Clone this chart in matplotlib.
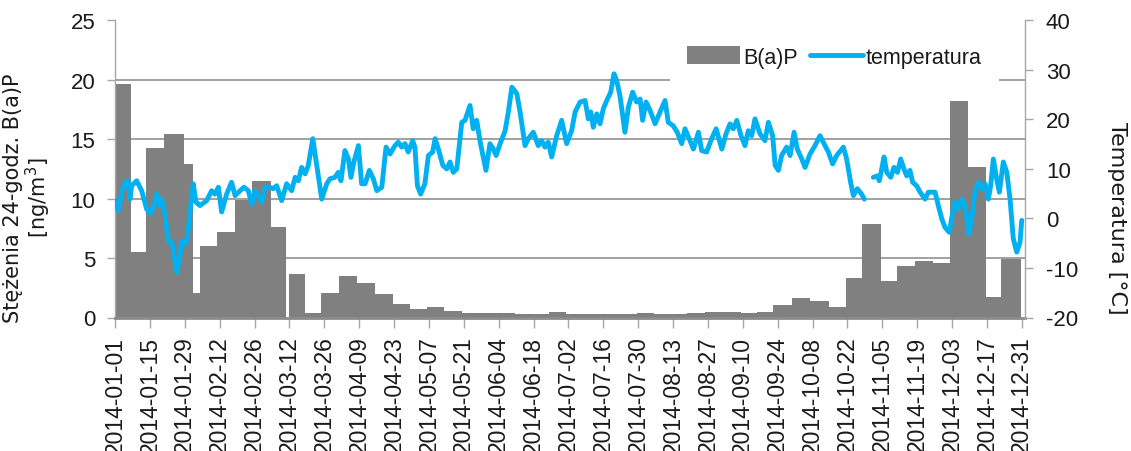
import numpy as np
import matplotlib
matplotlib.use("Agg")
import matplotlib.pyplot as plt
from matplotlib import font_manager

# ---------------- data ----------------
# B(a)P sampling periods: edges in days since 2014-01-01, values in ng/m3
bap_edges = [0, 6.4, 12.4, 19.7, 27.7, 31.3, 34.1, 40.9, 48.2, 55.0, 62.6, 68.6,
             70.0, 76.3, 82.6, 89.8, 97.3, 104.4, 111.5, 118.4, 125.1, 132.1,
             139.2, 160.6, 174.2, 181.0, 209.6, 216.4, 229.6, 236.9, 251.3,
             257.7, 264.1, 271.8, 279.0, 286.6, 293.5, 299.9, 307.5, 314.0,
             321.2, 328.4, 335.2, 342.4, 349.7, 355.7, 363.7]
bap_values = [19.6, 5.55, 14.3, 15.4, 12.95, 2.1, 6.05, 7.2, 9.85, 11.5, 7.65,
              np.nan, 3.7, 0.4, 2.05, 3.45, 2.9, 1.95, 1.1, 0.7, 0.85, 0.55,
              0.4, 0.3, 0.45, 0.3, 0.4, 0.3, 0.4, 0.5, 0.4, 0.5, 1.05, 1.65,
              1.35, 0.85, 3.3, 7.9, 3.1, 4.35, 4.75, 4.55, 18.2, 12.7, 1.75, 4.9]

# daily temperature readings (day since 2014-01-01, deg C)
temp_day = [0.0, 1.3, 2.7, 4.0, 5.3, 6.0, 6.7, 8.7, 10.7, 12.7,
            14.1, 15.7, 16.7, 18.1, 18.7, 20.1, 21.4, 22.8, 23.7, 24.8,
            25.8, 26.8, 28.1, 29.0, 30.1, 31.4, 32.5, 34.1, 36.8, 38.8,
            40.1, 41.5, 42.8, 44.8, 46.8, 48.2, 50.2, 51.8, 53.5, 54.9,
            56.2, 57.5, 58.9, 60.2, 62.2, 63.5, 64.9, 66.9, 68.9, 70.9,
            72.3, 73.6, 74.9, 76.3, 77.6, 79.4, 81.0, 83.0, 85.0, 86.3,
            88.3, 89.6, 90.7, 92.3, 93.7, 94.7, 95.9, 97.7, 99.0, 100.4,
            102.1, 103.7, 105.1, 107.1, 108.8, 110.4, 112.4, 113.7, 115.1, 116.4,
            117.7, 119.5, 120.4, 121.4, 122.7, 124.4, 125.8, 127.5, 128.5, 129.8,
            131.6, 133.2, 134.5, 135.8, 137.2, 139.2, 140.5, 142.5, 143.8, 145.2,
            146.5, 148.9, 150.5, 151.9, 153.0, 154.6, 156.6, 157.9, 159.3, 161.3,
            162.6, 164.6, 165.9, 167.9, 169.9, 171.3, 172.6, 173.9, 175.3, 177.3,
            179.3, 181.3, 183.3, 184.7, 186.7, 188.7, 190.0, 191.0, 192.0, 193.4,
            194.7, 196.0, 197.4, 199.0, 200.3, 201.4, 202.7, 204.7, 206.1, 207.8,
            209.4, 210.8, 211.8, 213.2, 214.8, 216.8, 218.8, 220.8, 222.1, 224.1,
            225.7, 227.5, 228.8, 230.5, 232.2, 234.2, 235.5, 237.5, 239.5, 241.3,
            243.6, 245.3, 246.9, 248.2, 249.6, 251.3, 252.9, 254.2, 255.6, 256.9,
            258.9, 260.9, 262.3, 264.0, 265.0, 266.3, 267.6, 269.6, 271.0, 272.6,
            273.9, 275.7, 277.0, 279.0, 281.0, 283.0, 285.0, 286.3, 288.1, 289.7,
            292.4, 293.7, 295.3, 296.4, 298.0, 299.7, 300.8, 302.5, 304.4, 306.0,
            306.8, 307.8, 308.7, 309.8, 311.4, 312.7, 314.1, 315.4, 316.7, 317.8,
            319.1, 320.2, 321.8, 323.2, 325.2, 326.5, 329.2, 330.5, 331.9, 333.2,
            334.9, 336.3, 337.2, 338.6, 339.9, 341.2, 342.8, 343.9, 345.2, 346.6,
            347.9, 349.3, 350.6, 351.5, 352.6, 353.9, 355.0, 356.6, 358.0, 359.3,
            360.6, 362.0, 363.3, 364.0]
temp_val = [3.6, 1.6, 5.3, 7.3, 7.6, 3.9, 6.6, 7.6, 5.6, 1.9,
            0.9, 2.6, 4.9, 2.6, 3.9, 0.6, -4.5, -4.8, -7.5, -10.9,
            -8.2, -4.5, -5.2, -4.1, 1.3, 7.0, 3.3, 2.6, 3.6, 5.6,
            4.9, 6.3, 1.3, 4.9, 7.3, 4.6, 5.6, 6.3, 5.6, 2.9,
            5.6, 4.6, 3.3, 6.3, 6.3, 6.0, 6.6, 3.6, 7.0, 5.6,
            8.3, 7.6, 10.3, 9.0, 10.7, 16.1, 10.7, 3.9, 7.0, 8.0,
            8.3, 9.3, 7.6, 13.7, 12.0, 8.3, 11.4, 14.7, 7.0, 7.0,
            9.7, 8.0, 5.6, 6.3, 14.4, 13.0, 14.7, 15.4, 14.4, 15.1,
            13.4, 15.7, 14.4, 6.6, 4.9, 7.0, 12.7, 13.4, 16.1, 14.0,
            10.7, 10.0, 11.4, 9.3, 10.0, 19.4, 19.8, 22.8, 18.1, 19.8,
            15.7, 9.7, 15.1, 14.0, 12.7, 15.1, 17.7, 21.5, 26.5, 25.2,
            21.5, 14.7, 16.1, 17.4, 14.7, 15.7, 14.4, 15.4, 12.4, 16.7,
            19.8, 15.1, 17.7, 21.5, 23.5, 23.8, 20.1, 21.5, 18.4, 21.1,
            19.1, 22.1, 23.8, 25.5, 29.2, 27.8, 24.8, 17.4, 22.5, 25.5,
            23.5, 24.1, 19.8, 23.5, 21.8, 19.1, 21.5, 23.8, 19.4, 18.7,
            17.4, 15.1, 18.1, 16.1, 14.0, 17.4, 13.7, 13.4, 16.1, 18.1,
            14.0, 17.1, 19.1, 18.1, 19.8, 16.7, 14.7, 17.7, 16.7, 20.1,
            17.1, 15.7, 19.4, 16.7, 10.7, 9.7, 12.7, 14.4, 12.7, 17.4,
            14.0, 12.0, 10.3, 13.0, 14.7, 16.7, 14.7, 13.5, 11.0, 12.7,
            14.4, 12.0, 7.3, 4.6, 6.0, 4.9, 3.9, np.nan, 8.3, 8.6,
            7.6, 10.0, 12.4, 9.3, 8.3, 10.3, 9.3, 12.0, 10.0, 8.6,
            9.7, 7.3, 6.6, 5.3, 3.9, 5.3, 5.3, 2.6, -0.1, -1.8,
            -2.8, 1.3, 3.3, 1.9, 3.9, 2.6, -3.1, -0.1, 5.3, 7.3,
            6.0, 7.0, 3.9, 6.6, 12.0, 8.0, 5.3, 11.4, 9.3, 3.9,
            -4.1, -6.8, -4.8, -0.4]

tick_labels = ["2014-01-01", "2014-01-15", "2014-01-29", "2014-02-12", "2014-02-26",
               "2014-03-12", "2014-03-26", "2014-04-09", "2014-04-23", "2014-05-07",
               "2014-05-21", "2014-06-04", "2014-06-18", "2014-07-02", "2014-07-16",
               "2014-07-30", "2014-08-13", "2014-08-27", "2014-09-10", "2014-09-24",
               "2014-10-08", "2014-10-22", "2014-11-05", "2014-11-19", "2014-12-03",
               "2014-12-17", "2014-12-31"]

series_names = ["B(a)P", "temperatura"]
left_label = "Stężenia 24-godz. B(a)P\n[ng/m$^3$]"
right_label = "Temperatura [°C]"

assert len(temp_day) == len(temp_val)
assert len(bap_edges) == len(bap_values) + 1

# ---------------- style ----------------
plt.rcParams["axes.unicode_minus"] = False
names = {f.name for f in font_manager.fontManager.ttflist}
narrow = "Liberation Sans Narrow" in names
tick_font = "Liberation Sans"

BAR_C = "#808080"
LINE_C = "#00b0f0"
AX_C = "#a6a6a6"
TXT_C = "#1a1a1a"

W, H = 1131, 452
fig = plt.figure(figsize=(W / 100, H / 100), dpi=100)
L, R, B, T = 115, 1025, 318.5, 21.3
ax1 = fig.add_axes([L / W, 1 - B / H, (R - L) / W, (B - T) / H])
ax2 = ax1.twinx()

edges = np.array(bap_edges)
bars = ax1.bar(edges[:-1], bap_values, width=np.diff(edges), align="edge",
               color=BAR_C, linewidth=0, zorder=2)
line, = ax2.plot(temp_day, temp_val, color=LINE_C, lw=3.5, solid_joinstyle="round",
                 solid_capstyle="round", zorder=3)

ax1.set_xlim(0, 365.3)
ax1.set_ylim(0, 25)
ax2.set_ylim(-20, 40)

ticks_pos = [(np.datetime64(s) - np.datetime64("2014-01-01")).astype(int) for s in tick_labels]
ax1.set_xticks(ticks_pos)
ax1.set_xticklabels(tick_labels, rotation=90, fontfamily=tick_font, fontsize=16.5,
                    color=TXT_C, va="top")
ax1.set_yticks(np.arange(0, 26, 5))
ax2.set_yticks(np.arange(-20, 41, 10))
for lab in ax1.get_yticklabels() + ax2.get_yticklabels():
    lab.set_fontfamily(tick_font)
    lab.set_fontsize(16)
    lab.set_color(TXT_C)

ax1.set_axisbelow(True)
ax1.yaxis.grid(True, color="#a0a0a0", lw=1.4)
gl = ax1.get_ygridlines()
gl[0].set_visible(False)
gl[-1].set_visible(False)

for sp in ["top", "right"]:
    ax1.spines[sp].set_visible(False)
for sp in ["top", "left", "bottom"]:
    ax2.spines[sp].set_visible(False)
ax1.spines["left"].set_color(AX_C)
ax1.spines["left"].set_linewidth(1.0)
ax1.spines["bottom"].set_color("#8c8c8c")
ax1.spines["bottom"].set_linewidth(2.0)
ax2.spines["right"].set_color(AX_C)
ax2.spines["right"].set_linewidth(1.0)

ax1.tick_params(axis="x", direction="out", length=7, width=1, color=AX_C, pad=6)
ax1.tick_params(axis="y", direction="out", length=6, width=1, color=AX_C, pad=8)
ax2.tick_params(axis="y", direction="out", length=6, width=1, color=AX_C, pad=9)

fig.text(28 / W, 1 - 198 / H, left_label, rotation=90, ha="center", va="center",
         fontsize=15, fontfamily="DejaVu Sans", color=TXT_C, linespacing=1.0,
         multialignment="center")
fig.text(1117 / W, 1 - 218 / H, right_label, rotation=-90, ha="center", va="center",
         fontsize=16, fontfamily="DejaVu Sans", color=TXT_C)

if narrow:
    lfam, lsize = "Liberation Sans Narrow", 19
else:
    lfam, lsize = "Liberation Sans", 15.5
lpx = lsize * 100 / 72
leg = ax2.legend([bars, line], series_names, ncol=2, loc="center",
                 bbox_to_anchor=(834.5 / W, 1 - 58 / H), bbox_transform=fig.transFigure,
                 frameon=True, facecolor="white", edgecolor="none", framealpha=1,
                 fancybox=False, handlelength=53 / lpx, handleheight=0.9,
                 handletextpad=0.15, columnspacing=12 / lpx, borderpad=0.8,
                 prop={"family": lfam, "size": lsize})
for t in leg.get_texts():
    t.set_color(TXT_C)
leg.set_zorder(10)

fig.savefig("out.png", dpi=100)
